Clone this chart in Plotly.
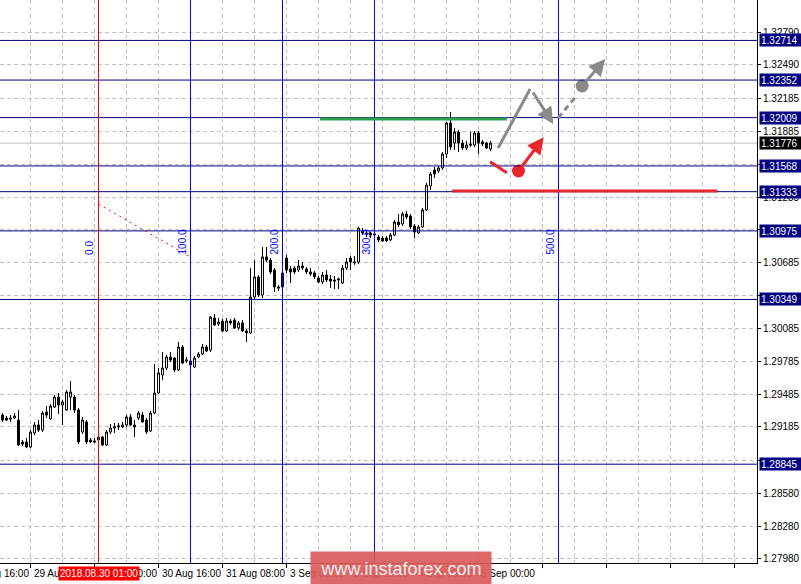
import plotly.graph_objects as go

# GBPUSD H1, one entry per bar (bar index 0 = first bar on screen)
opens = [
    1.29294, 1.29267, 1.29267, 1.29267, 1.29248, 1.29048, 1.29048, 1.29002, 1.29130, 1.29203,
    1.29157, 1.29321, 1.29258, 1.29367, 1.29458, 1.29385, 1.29340, 1.29458, 1.29458, 1.29340,
    1.29139, 1.29230, 1.29066, 1.29057, 1.29093, 1.29093, 1.29020, 1.29139, 1.29175, 1.29185,
    1.29185, 1.29203, 1.29276, 1.29203, 1.29267, 1.29294, 1.29248, 1.29148, 1.29312, 1.29495,
    1.29659, 1.29723, 1.29824, 1.29814, 1.29705, 1.29915, 1.29787, 1.29787, 1.29732, 1.29824,
    1.29851, 1.29915, 1.29888, 1.30180, 1.30125, 1.30152, 1.30061, 1.30152, 1.30161, 1.30088,
    1.30134, 1.30061, 1.30043, 1.30371, 1.30554, 1.30390, 1.30737, 1.30709, 1.30618, 1.30463,
    1.30463, 1.30727, 1.30627, 1.30636, 1.30618, 1.30654, 1.30627, 1.30600, 1.30591, 1.30545,
    1.30508, 1.30572, 1.30536, 1.30527, 1.30527, 1.30499, 1.30636, 1.30727, 1.30682, 1.30691,
    1.30974, 1.30956, 1.30956, 1.30937, 1.30919, 1.30910, 1.30910, 1.30892, 1.30937, 1.31056,
    1.31038, 1.31129, 1.31111, 1.31020, 1.30956, 1.31011, 1.31166, 1.31385, 1.31531, 1.31522,
    1.31549, 1.31677, 1.31960, 1.31777, 1.31878, 1.31777, 1.31732, 1.31768, 1.31759, 1.31869,
    1.31787, 1.31777, 1.31723,
]
highs = [
    1.29312, 1.29285, 1.29294, 1.29312, 1.29340, 1.29066, 1.29084, 1.29157, 1.29230, 1.29248,
    1.29331, 1.29376, 1.29395, 1.29477, 1.29495, 1.29431, 1.29522, 1.29605, 1.29477, 1.29358,
    1.29276, 1.29248, 1.29084, 1.29084, 1.29102, 1.29102, 1.29157, 1.29212, 1.29221, 1.29221,
    1.29230, 1.29294, 1.29303, 1.29248, 1.29331, 1.29321, 1.29267, 1.29331, 1.29760, 1.29723,
    1.29869, 1.29842, 1.29869, 1.29824, 1.29961, 1.29933, 1.29824, 1.29796, 1.29833, 1.29869,
    1.29942, 1.29933, 1.30198, 1.30216, 1.30180, 1.30171, 1.30180, 1.30171, 1.30180, 1.30152,
    1.30161, 1.30079, 1.30636, 1.30709, 1.30572, 1.30828, 1.30828, 1.30727, 1.30636, 1.30481,
    1.30609, 1.30755, 1.30654, 1.30654, 1.30709, 1.30691, 1.30645, 1.30636, 1.30609, 1.30563,
    1.30600, 1.30618, 1.30572, 1.30563, 1.30545, 1.30664, 1.30727, 1.30746, 1.30746, 1.31011,
    1.31001, 1.30974, 1.30965, 1.30956, 1.30937, 1.30928, 1.30928, 1.30956, 1.31074, 1.31129,
    1.31147, 1.31157, 1.31129, 1.31038, 1.31029, 1.31184, 1.31412, 1.31513, 1.31558, 1.31567,
    1.31695, 1.31969, 1.32060, 1.31914, 1.31896, 1.31805, 1.31796, 1.31878, 1.31887, 1.31887,
    1.31805, 1.31787, 1.31796,
]
lows = [
    1.29230, 1.29239, 1.29230, 1.29258, 1.29011, 1.29011, 1.28993, 1.28993, 1.29111, 1.29139,
    1.29139, 1.29267, 1.29248, 1.29358, 1.29303, 1.29203, 1.29331, 1.29340, 1.29312, 1.29029,
    1.29121, 1.29029, 1.29038, 1.29038, 1.29029, 1.29011, 1.29011, 1.29121, 1.29130, 1.29157,
    1.29175, 1.29185, 1.29194, 1.29093, 1.29248, 1.29221, 1.29121, 1.29139, 1.29303, 1.29486,
    1.29614, 1.29705, 1.29778, 1.29687, 1.29696, 1.29760, 1.29769, 1.29741, 1.29723, 1.29814,
    1.29842, 1.29869, 1.29869, 1.30107, 1.30107, 1.30052, 1.30052, 1.30116, 1.30079, 1.30070,
    1.30052, 1.29961, 1.30034, 1.30344, 1.30371, 1.30362, 1.30691, 1.30581, 1.30417, 1.30426,
    1.30444, 1.30591, 1.30499, 1.30581, 1.30600, 1.30618, 1.30581, 1.30563, 1.30536, 1.30499,
    1.30490, 1.30508, 1.30454, 1.30444, 1.30444, 1.30490, 1.30618, 1.30618, 1.30664, 1.30673,
    1.30937, 1.30919, 1.30910, 1.30919, 1.30874, 1.30874, 1.30874, 1.30883, 1.30928, 1.31011,
    1.31020, 1.31084, 1.30992, 1.30910, 1.30947, 1.31001, 1.31157, 1.31348, 1.31458, 1.31504,
    1.31531, 1.31640, 1.31714, 1.31714, 1.31695, 1.31714, 1.31714, 1.31741, 1.31741, 1.31677,
    1.31750, 1.31723, 1.31704,
]
closes = [
    1.29248, 1.29248, 1.29258, 1.29285, 1.29020, 1.29029, 1.29002, 1.29139, 1.29203, 1.29157,
    1.29312, 1.29294, 1.29376, 1.29458, 1.29385, 1.29413, 1.29504, 1.29504, 1.29340, 1.29048,
    1.29248, 1.29048, 1.29048, 1.29048, 1.29066, 1.29020, 1.29139, 1.29175, 1.29185, 1.29194,
    1.29203, 1.29276, 1.29203, 1.29185, 1.29312, 1.29230, 1.29139, 1.29312, 1.29495, 1.29678,
    1.29723, 1.29824, 1.29796, 1.29705, 1.29915, 1.29769, 1.29796, 1.29751, 1.29814, 1.29851,
    1.29915, 1.29878, 1.30189, 1.30116, 1.30143, 1.30061, 1.30152, 1.30134, 1.30088, 1.30134,
    1.30061, 1.30043, 1.30371, 1.30554, 1.30390, 1.30737, 1.30709, 1.30600, 1.30463, 1.30454,
    1.30591, 1.30618, 1.30600, 1.30600, 1.30654, 1.30636, 1.30600, 1.30581, 1.30554, 1.30508,
    1.30572, 1.30527, 1.30517, 1.30517, 1.30536, 1.30636, 1.30691, 1.30691, 1.30691, 1.31001,
    1.30956, 1.30947, 1.30937, 1.30947, 1.30892, 1.30883, 1.30883, 1.30937, 1.31056, 1.31029,
    1.31129, 1.31102, 1.31011, 1.30965, 1.31011, 1.31166, 1.31394, 1.31494, 1.31494, 1.31549,
    1.31677, 1.31960, 1.31741, 1.31878, 1.31777, 1.31732, 1.31759, 1.31759, 1.31869, 1.31777,
    1.31768, 1.31732, 1.31776,
]
bars = list(range(len(opens)))

# grid prices of the right scale; labels hidden under the level boxes are left blank
price_ticks = [1.27980, 1.28280, 1.28580, 1.28880, 1.29185, 1.29485, 1.29785, 1.30085,
               1.30385, 1.30685, 1.30985, 1.31283, 1.31585, 1.31885, 1.32185, 1.32490, 1.32790]
hidden_ticks = [1.28880, 1.30385, 1.30985, 1.31585]
levels = [1.32714, 1.32352, 1.32009, 1.31568, 1.31333, 1.30975, 1.30349, 1.28845]
last_price = 1.31776

time_tick_bars = [-9, 7, 23, 39, 55, 71, 87, 103, 119]
time_tick_labels = ["28 Aug 16:00", "29 Aug 08:00", "30 Aug 00:00", "30 Aug 16:00",
                    "31 Aug 08:00", "3 Sep 00:00", "3 Sep 16:00", "4 Sep 08:00", "5 Sep 00:00"]
cursor_bar = 24
cursor_label = "2018.08.30 01:00"

# fibonacci time zones
fib_bars = [24, 47, 70, 93, 139]
fib_labels = ["0.0", "100.0", "200.0", "300.0", "500.0"]
fib_base_bars = [24, 47]
fib_base_prices = [1.31220, 1.30737]

# hand drawn analysis objects
green_bars, green_price = [79.4, 126.1], 1.31997
red_bars, red_price = [112.4, 178.7], 1.31339
red_tick_bars, red_tick_prices = [121.9, 126.1], [1.31607, 1.31506]
red_arrow_bars, red_arrow_prices = [129.0, 135.3], [1.31522, 1.31829]
gray_up_bars, gray_up_prices = [123.9, 131.9], [1.31732, 1.32270]
gray_down_bars, gray_down_prices = [132.4, 137.7], [1.32252, 1.31951]
gray_dash_bars, gray_dash_prices = [138.9, 143.2], [1.32006, 1.32197]
gray_arrow_bars, gray_arrow_prices = [144.9, 150.7], [1.32298, 1.32544]

X_RANGE = [-0.625, 188.625]
Y_RANGE = [1.27943, 1.33083]

FONT = "Tahoma, Liberation Sans, Arial, sans-serif"
GRID = "#c0c0c0"
NAVY = "#000080"
RED = "#e8262b"
GRAY = "#8a8a8a"


def bar_to_paper(k):
    return (k - X_RANGE[0]) / (X_RANGE[1] - X_RANGE[0])


fig = go.Figure()
fig.add_trace(
    go.Candlestick(
        x=bars, open=opens, high=highs, low=lows, close=closes,
        increasing=dict(line=dict(color="black", width=1), fillcolor="white"),
        decreasing=dict(line=dict(color="black", width=1), fillcolor="black"),
        whiskerwidth=0,
        hoverinfo="skip",
    )
)

# level lines
for lv in levels:
    fig.add_shape(type="line", xref="paper", x0=0, x1=1, y0=lv, y1=lv,
                  line=dict(color=NAVY, width=1), layer="above")
fig.add_shape(type="line", xref="paper", x0=0, x1=1, y0=last_price, y1=last_price,
              line=dict(color="#c0c0c0", width=1), layer="below")

# time zone lines
for b, lab in zip(fib_bars, fib_labels):
    col = "#ff0000" if b == cursor_bar else "#0000ff"
    fig.add_shape(type="line", x0=b, x1=b, yref="paper", y0=0, y1=1,
                  line=dict(color=col, width=1), layer="above")
    fig.add_annotation(x=b, y=fib_base_prices[1], text=lab, showarrow=False,
                       textangle=-90, xanchor="right", yanchor="bottom", xshift=-1,
                       font=dict(family=FONT, size=10, color="#0000ff"))
fig.add_shape(type="line", x0=fib_base_bars[0], x1=fib_base_bars[1],
              y0=fib_base_prices[0], y1=fib_base_prices[1],
              line=dict(color="#ff0000", width=1, dash="2px,4px"), layer="above")

# analysis drawings
fig.add_shape(type="line", x0=green_bars[0], x1=green_bars[1], y0=green_price, y1=green_price,
              line=dict(color="#2aa24a", width=3), layer="above")
fig.add_shape(type="line", x0=red_bars[0], x1=red_bars[1], y0=red_price, y1=red_price,
              line=dict(color=RED, width=3), layer="above")
fig.add_shape(type="line", x0=red_tick_bars[0], x1=red_tick_bars[1],
              y0=red_tick_prices[0], y1=red_tick_prices[1],
              line=dict(color=RED, width=3), layer="above")
fig.add_shape(type="line", x0=gray_up_bars[0], x1=gray_up_bars[1],
              y0=gray_up_prices[0], y1=gray_up_prices[1],
              line=dict(color=GRAY, width=3), layer="above")
fig.add_shape(type="line", x0=gray_dash_bars[0], x1=gray_dash_bars[1],
              y0=gray_dash_prices[0], y1=gray_dash_prices[1],
              line=dict(color=GRAY, width=3, dash="6px,4px"), layer="above")

for xs, ys, col in [(red_arrow_bars, red_arrow_prices, RED),
                    (gray_down_bars, gray_down_prices, GRAY),
                    (gray_arrow_bars, gray_arrow_prices, GRAY)]:
    fig.add_annotation(x=xs[1], y=ys[1], ax=xs[0], ay=ys[0], axref="x", ayref="y",
                       text="", showarrow=True, arrowhead=2, arrowsize=1.1,
                       arrowwidth=3, arrowcolor=col)

fig.add_trace(go.Scatter(x=[red_arrow_bars[0]], y=[red_arrow_prices[0]], mode="markers",
                         marker=dict(size=13, color=RED), hoverinfo="skip"))
fig.add_trace(go.Scatter(x=[gray_arrow_bars[0]], y=[gray_arrow_prices[0]], mode="markers",
                         marker=dict(size=13, color=GRAY), hoverinfo="skip"))

# price boxes on the right scale
for lv in levels:
    fig.add_annotation(xref="paper", x=1, y=lv, text=f"{lv:.5f}", showarrow=False,
                       xanchor="left", yanchor="middle", xshift=2, align="left",
                       width=39, height=10, borderpad=1, bgcolor=NAVY,
                       font=dict(family=FONT, size=10, color="white"))
fig.add_annotation(xref="paper", x=1, y=last_price, text=f"{last_price:.5f}", showarrow=False,
                   xanchor="left", yanchor="middle", xshift=2, align="left",
                   width=39, height=10, borderpad=1, bgcolor="black",
                   font=dict(family=FONT, size=10, color="white"))

# time labels
for b, lab in zip(time_tick_bars, time_tick_labels):
    fig.add_annotation(xref="paper", x=bar_to_paper(b), yref="paper", y=0, text=lab,
                       showarrow=False, xanchor="left", yanchor="top", xshift=1, yshift=-3,
                       font=dict(family=FONT, size=10, color="black"))
fig.add_annotation(xref="paper", x=bar_to_paper(cursor_bar), yref="paper", y=0,
                   text=cursor_label, showarrow=False, xanchor="center", yanchor="top",
                   yshift=-3, bgcolor="#ff0000", borderpad=1,
                   font=dict(family=FONT, size=10, color="white"))

# watermark
fig.add_annotation(xref="paper", x=bar_to_paper(99.7), yref="paper", y=-0.0098,
                   text="www.instaforex.com", showarrow=False, xanchor="center",
                   yanchor="middle", width=178, height=31, bgcolor="rgba(220,92,92,0.93)",
                   font=dict(family="Arial, Liberation Sans", size=18, color="#f8eeee"))

fig.update_layout(
    width=801,
    height=584,
    margin=dict(l=0, r=44, t=0, b=21),
    plot_bgcolor="white",
    paper_bgcolor="white",
    showlegend=False,
    font=dict(family=FONT, size=10, color="black"),
    xaxis=dict(
        range=X_RANGE, rangeslider=dict(visible=False),
        tickmode="linear", tick0=7, dtick=16, showticklabels=False,
        ticks="outside", ticklen=4, tickcolor="black",
        showline=True, linecolor="black", linewidth=1,
        showgrid=True, gridcolor=GRID, griddash="4px,3px", zeroline=False,
        minor=dict(tick0=7, dtick=8, showgrid=True, gridcolor=GRID, griddash="4px,3px"),
    ),
    yaxis=dict(
        range=Y_RANGE, side="right",
        tickmode="array", tickvals=price_ticks,
        ticktext=["" if v in hidden_ticks else f"{v:.5f}" for v in price_ticks],
        ticks="outside", ticklen=3, tickcolor="black",
        showline=True, linecolor="black", linewidth=1,
        showgrid=True, gridcolor=GRID, griddash="4px,3px", zeroline=False,
        tickfont=dict(family=FONT, size=10, color="black"),
    ),
)

fig.write_html("out.html", config={"displayModeBar": False},
               post_script="document.body.style.margin='0px';")
